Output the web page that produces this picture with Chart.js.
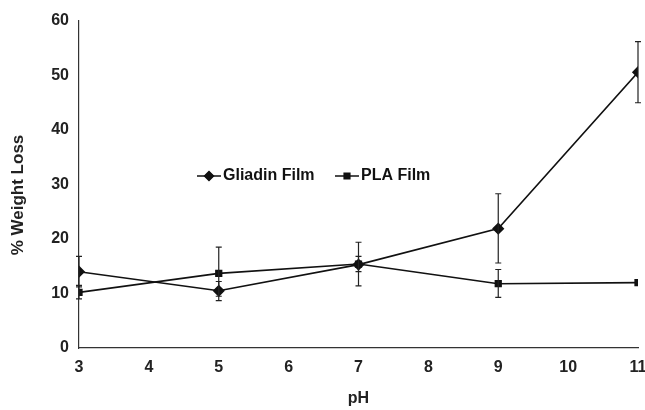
<!DOCTYPE html>
<html>
<head>
<meta charset="utf-8">
<script src="https://cdn.jsdelivr.net/npm/chart.js"></script>
<style>
  html, body { margin: 0; padding: 0; background: #fff; }
  #wrap { width: 645px; height: 410px; position: relative; }
</style>
</head>
<body>
<div id="wrap"><canvas id="lineChart"></canvas></div>
<script>
// datos
const phValues = [3, 5, 7, 9, 11];
const gliadinLoss = [14.0, 10.5, 15.3, 21.9, 50.6];
const gliadinErrLow = [11.2, 8.7, 14.0, 15.6, 45.0];
const gliadinErrHigh = [16.8, 12.2, 16.8, 28.3, 56.2];
const plaLoss = [10.2, 13.7, 15.4, 11.8, 12.0];
const plaErrLow = [9.0, 9.5, 11.4, 9.3, 12.0];
const plaErrHigh = [11.5, 18.5, 19.4, 14.4, 12.0];
const seriesNames = ['Gliadin Film', 'PLA Film'];
const yTitle = '% Weight Loss';

const FONT = 'Liberation Sans, Arial, sans-serif';

// barras de error dibujadas con las escalas del grafico
const errorBars = {
  id: 'errorBars',
  afterDatasetsDraw(chart) {
    const { ctx, scales: { x, y } } = chart;
    const sets = [[gliadinErrLow, gliadinErrHigh], [plaErrLow, plaErrHigh]];
    ctx.save();
    ctx.strokeStyle = '#222';
    ctx.lineWidth = 1.2;
    sets.forEach(([lo, hi]) => {
      phValues.forEach((ph, i) => {
        if (hi[i] === lo[i]) return;
        const px = x.getPixelForValue(ph);
        const y1 = y.getPixelForValue(lo[i]);
        const y2 = y.getPixelForValue(hi[i]);
        ctx.beginPath();
        ctx.moveTo(px, y1); ctx.lineTo(px, y2);
        ctx.moveTo(px - 3, y1); ctx.lineTo(px + 3, y1);
        ctx.moveTo(px - 3, y2); ctx.lineTo(px + 3, y2);
        ctx.stroke();
      });
    });
    ctx.restore();
  }
};

// leyenda dentro del area del grafico + titulo del eje y
const innerLegend = {
  id: 'innerLegend',
  afterDraw(chart) {
    const { ctx } = chart;
    const items = [
      { label: seriesNames[0], style: 'rectRot', r: 4.5, x: 197 },
      { label: seriesNames[1], style: 'rect', r: 4, x: 335 }
    ];
    const yy = 176;
    ctx.save();
    ctx.fillStyle = '#111';
    ctx.strokeStyle = '#111';
    ctx.font = 'bold 16px ' + FONT;
    ctx.textBaseline = 'middle';
    items.forEach(it => {
      ctx.lineWidth = 1.5;
      ctx.beginPath();
      ctx.moveTo(it.x, yy); ctx.lineTo(it.x + 24, yy);
      ctx.stroke();
      Chart.helpers.drawPoint(ctx, { pointStyle: it.style, radius: it.r, borderWidth: 1 }, it.x + 12, yy);
      ctx.fill();
      ctx.fillText(it.label, it.x + 26, yy);
    });

    ctx.fillStyle = '#222';
    ctx.font = 'bold 17px ' + FONT;
    ctx.textAlign = 'center';
    ctx.translate(18, 195);
    ctx.rotate(-Math.PI / 2);
    ctx.fillText(yTitle, 0, 0);
    ctx.restore();
  }
};

new Chart(document.getElementById('lineChart').getContext('2d'), {
  type: 'line',
  data: {
    datasets: [
      {
        label: seriesNames[0],
        data: phValues.map((p, i) => ({ x: p, y: gliadinLoss[i] })),
        borderColor: '#111',
        backgroundColor: '#111',
        borderWidth: 1.6,
        pointStyle: 'rectRot',
        pointRadius: 5,
        tension: 0
      },
      {
        label: seriesNames[1],
        data: phValues.map((p, i) => ({ x: p, y: plaLoss[i] })),
        borderColor: '#111',
        backgroundColor: '#111',
        borderWidth: 1.6,
        pointStyle: 'rect',
        pointRadius: 4,
        tension: 0
      }
    ]
  },
  options: {
    responsive: true,
    maintainAspectRatio: false,
    animation: false,
    layout: { padding: { top: 21, right: 7, left: 0, bottom: 0 } },
    plugins: { legend: { display: false }, tooltip: { enabled: false } },
    scales: {
      x: {
        type: 'linear',
        min: 3, max: 11,
        grid: { display: false, drawTicks: true, tickLength: 4, color: '#333' },
        border: { color: '#333', width: 1.2 },
        ticks: { stepSize: 1, color: '#222', padding: 6, font: { family: FONT, size: 16, weight: 'bold' } },
        title: { display: true, text: 'pH', color: '#222', padding: { top: 4, bottom: 2 }, font: { family: FONT, size: 16, weight: 'bold' } },
        afterFit(s) { s.height = 62; s.paddingRight = 0; s.paddingLeft = 0; }
      },
      y: {
        min: 0, max: 60,
        grid: { display: false, drawTicks: true, tickLength: 4, color: '#333' },
        border: { color: '#333', width: 1.2 },
        ticks: { stepSize: 10, color: '#222', padding: 6, font: { family: FONT, size: 16, weight: 'bold' } },
        afterFit(s) { s.width = 79; s.paddingTop = 0; s.paddingBottom = 0; }
      }
    }
  },
  plugins: [errorBars, innerLegend]
});
</script>
</body>
</html>
